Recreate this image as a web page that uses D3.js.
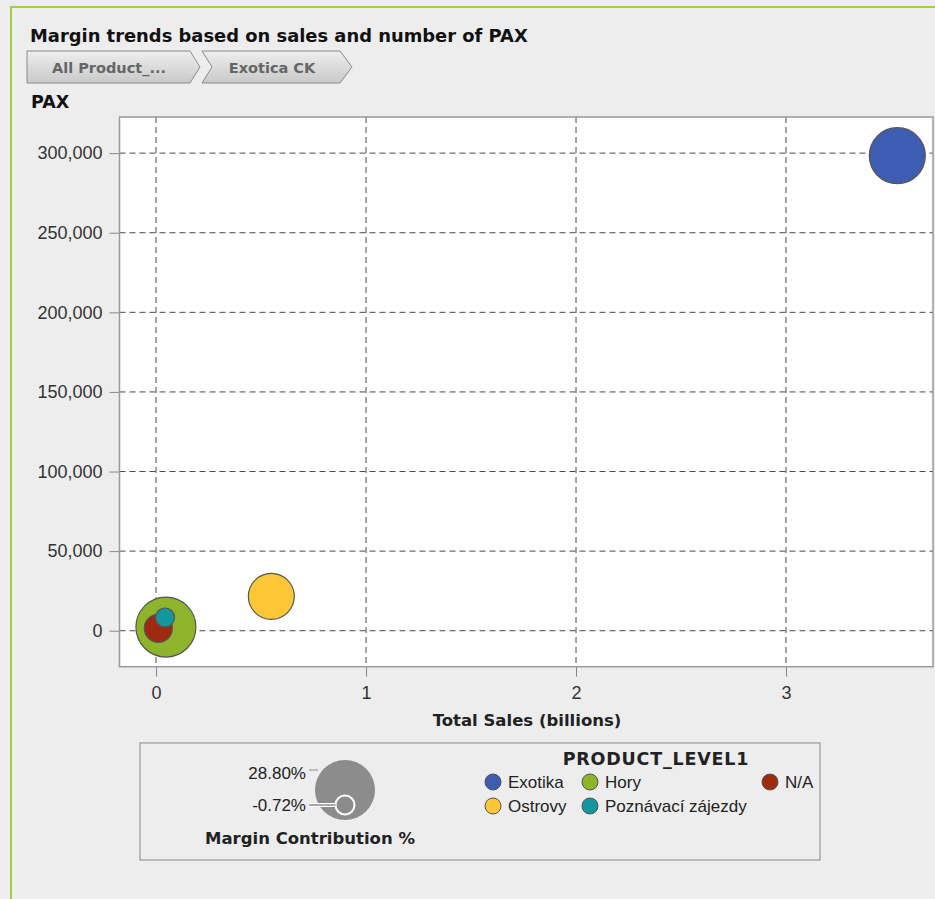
<!DOCTYPE html>
<html>
<head>
<meta charset="utf-8">
<script src="https://cdn.jsdelivr.net/npm/d3@7"></script>
<style>
  body { margin: 0; background: #ededed; }
  svg text { font-family: "Liberation Sans", Arial, sans-serif; }
  svg text.bold { font-family: "DejaVu Sans", Verdana, sans-serif; font-weight: bold; }
</style>
</head>
<body>
<div id="chart"></div>
<script>
// data
var products = ["Exotika", "Hory", "Ostrovy", "N/A", "Poznávací zájezdy"];
var sales = [3.53, 0.047, 0.549, 0.011, 0.043];        // billions
var pax = [298400, 2300, 21600, 1500, 8300];
var margin = [25.9, 28.80, 18.7, 5.8, -0.72];           // margin contribution %
var colors = ["#3f5cb3", "#8db42a", "#fcc636", "#9f2a12", "#12979f"];
var xTicks = [0, 1, 2, 3];
var yTicks = [0, 50000, 100000, 150000, 200000, 250000, 300000];
var sizeLegend = [28.80, -0.72];
var breadcrumbs = ["All Product_...", "Exotica CK"];

function init(){
  var w = 935, h = 899;
  var left = 119.5, right = 933, top = 117, bottom = 666.7;

  var svg = d3.select("#chart").append("svg")
      .attr("width", w).attr("height", h);

  svg.append("rect").attr("width", w).attr("height", h).attr("fill", "#ededed");
  // green frame
  svg.append("line").attr("x1", 11).attr("y1", 7).attr("x2", w).attr("y2", 7)
     .attr("stroke", "#a6cf3e").attr("stroke-width", 2);
  svg.append("line").attr("x1", 11).attr("y1", 6).attr("x2", 11).attr("y2", h)
     .attr("stroke", "#a6cf3e").attr("stroke-width", 2);

  svg.append("text").attr("class", "bold").attr("x", 30).attr("y", 42)
     .attr("font-size", 17.9).attr("fill", "#111")
     .text("Margin trends based on sales and number of PAX");

  // breadcrumb buttons
  var grad = svg.append("defs").append("linearGradient").attr("id", "crumb")
      .attr("x1", 0).attr("y1", 0).attr("x2", 0).attr("y2", 1);
  grad.append("stop").attr("offset", "0%").attr("stop-color", "#eeeeee");
  grad.append("stop").attr("offset", "100%").attr("stop-color", "#c9c9c9");

  var crumbPaths = [
    "M27,51 L190,51 L200,67 L190,83 L27,83 Z",
    "M202,51 L340,51 L352,67 L340,83 L202,83 L212,67 Z"
  ];
  var crumbX = [109, 272];
  breadcrumbs.forEach(function(t, i){
    svg.append("path").attr("d", crumbPaths[i])
       .attr("fill", "url(#crumb)").attr("stroke", "#8a8a8a");
    svg.append("text").attr("class", "bold").attr("x", crumbX[i]).attr("y", 73)
       .attr("text-anchor", "middle").attr("font-size", 14.5)
       .attr("fill", "#666").text(t);
  });

  svg.append("text").attr("class", "bold").attr("x", 31).attr("y", 108)
     .attr("font-size", 17.5).attr("fill", "#111")
     .text("PAX");

  var x = d3.scaleLinear().domain([-0.174, 3.70]).range([left, right]);
  var y = d3.scaleLinear().domain([-22600, 322700]).range([bottom, top]);
  var r = d3.scaleLinear().domain([-0.72, 28.80]).range([9.5, 30]);

  svg.append("rect").attr("x", left).attr("y", top)
     .attr("width", right - left).attr("height", bottom - top)
     .attr("fill", "#fff");

  // grid
  svg.selectAll(".gx").data(xTicks).enter().append("line")
     .attr("x1", function(d){ return x(d); }).attr("x2", function(d){ return x(d); })
     .attr("y1", top).attr("y2", bottom)
     .attr("stroke", "#4a4a4a").attr("stroke-dasharray", "6,4");
  svg.selectAll(".gy").data(yTicks).enter().append("line")
     .attr("x1", left).attr("x2", right)
     .attr("y1", function(d){ return y(d); }).attr("y2", function(d){ return y(d); })
     .attr("stroke", "#4a4a4a").attr("stroke-dasharray", "6,4");

  // axes
  var xAxis = svg.append("g").attr("transform", "translate(0," + bottom + ")")
     .call(d3.axisBottom(x).tickValues(xTicks).tickSize(10).tickPadding(10)
           .tickFormat(d3.format("d")));
  var yAxis = svg.append("g").attr("transform", "translate(" + left + ",0)")
     .call(d3.axisLeft(y).tickValues(yTicks).tickSize(10).tickPadding(7)
           .tickFormat(d3.format(",")));
  [xAxis, yAxis].forEach(function(a){
    a.select(".domain").remove();
    a.selectAll("line").attr("stroke", "#888");
    a.selectAll("text").attr("font-size", 18).attr("fill", "#333")
     .attr("font-family", "Liberation Sans, Arial, sans-serif");
  });

  svg.append("rect").attr("x", left).attr("y", top)
     .attr("width", right - left).attr("height", bottom - top)
     .attr("fill", "none").attr("stroke", "#999").attr("stroke-width", 1.5);

  // bubbles
  var idx = d3.range(products.length);
  svg.selectAll(".bubble").data(idx).enter().append("circle")
     .attr("cx", function(i){ return x(sales[i]); })
     .attr("cy", function(i){ return y(pax[i]); })
     .attr("r", function(i){ return r(margin[i]); })
     .attr("fill", function(i){ return colors[i]; })
     .attr("stroke", "#555").attr("stroke-width", 1.2);

  svg.append("text").attr("class", "bold").attr("x", 527).attr("y", 726).attr("text-anchor", "middle")
     .attr("font-size", 16.5).attr("fill", "#222")
     .text("Total Sales (billions)");

  // legend box
  svg.append("rect").attr("x", 140).attr("y", 743).attr("width", 680).attr("height", 117)
     .attr("fill", "#ededed").attr("stroke", "#999").attr("stroke-width", 1.2);

  // size legend
  var cx = 345;
  var cys = [790, 805];
  sizeLegend.forEach(function(v, i){
    svg.append("circle").attr("cx", cx).attr("cy", cys[i]).attr("r", r(v))
       .attr("fill", "#8c8c8c")
       .attr("stroke", i === 0 ? "none" : "#fff").attr("stroke-width", 2);
  });
  svg.append("line").attr("x1", 309).attr("x2", 318).attr("y1", 770).attr("y2", 770)
     .attr("stroke", "#8c8c8c");
  svg.append("line").attr("x1", 309).attr("x2", cx - r(-0.72)).attr("y1", 805).attr("y2", 805)
     .attr("stroke", "#fff").attr("stroke-width", 4);
  svg.append("line").attr("x1", 309).attr("x2", cx - r(-0.72)).attr("y1", 805).attr("y2", 805)
     .attr("stroke", "#8c8c8c").attr("stroke-width", 1.5);
  svg.append("text").attr("x", 306).attr("y", 779).attr("text-anchor", "end")
     .attr("font-size", 17).attr("fill", "#222").text(sizeLegend[0].toFixed(2) + "%");
  svg.append("text").attr("x", 306).attr("y", 811).attr("text-anchor", "end")
     .attr("font-size", 17).attr("fill", "#222").text(sizeLegend[1].toFixed(2) + "%");
  svg.append("text").attr("class", "bold").attr("x", 310).attr("y", 844).attr("text-anchor", "middle")
     .attr("font-size", 16.5).attr("fill", "#222")
     .text("Margin Contribution %");

  // colour legend
  svg.append("text").attr("class", "bold").attr("x", 656).attr("y", 765).attr("text-anchor", "middle")
     .attr("font-size", 17.5).attr("letter-spacing", 0.8).attr("fill", "#222")
     .text("PRODUCT_LEVEL1");
  var legendOrder = [0, 1, 3, 2, 4];
  var legPos = [[493, 782], [590, 782], [770, 782], [493, 806], [590, 806]];
  legendOrder.forEach(function(i, k){
    svg.append("circle").attr("cx", legPos[k][0]).attr("cy", legPos[k][1]).attr("r", 8)
       .attr("fill", colors[i]).attr("stroke", "#555");
    svg.append("text").attr("x", legPos[k][0] + 15).attr("y", legPos[k][1] + 6)
       .attr("font-size", 17).attr("fill", "#222").text(products[i]);
  });
}

window.onload = init;
</script>
</body>
</html>
